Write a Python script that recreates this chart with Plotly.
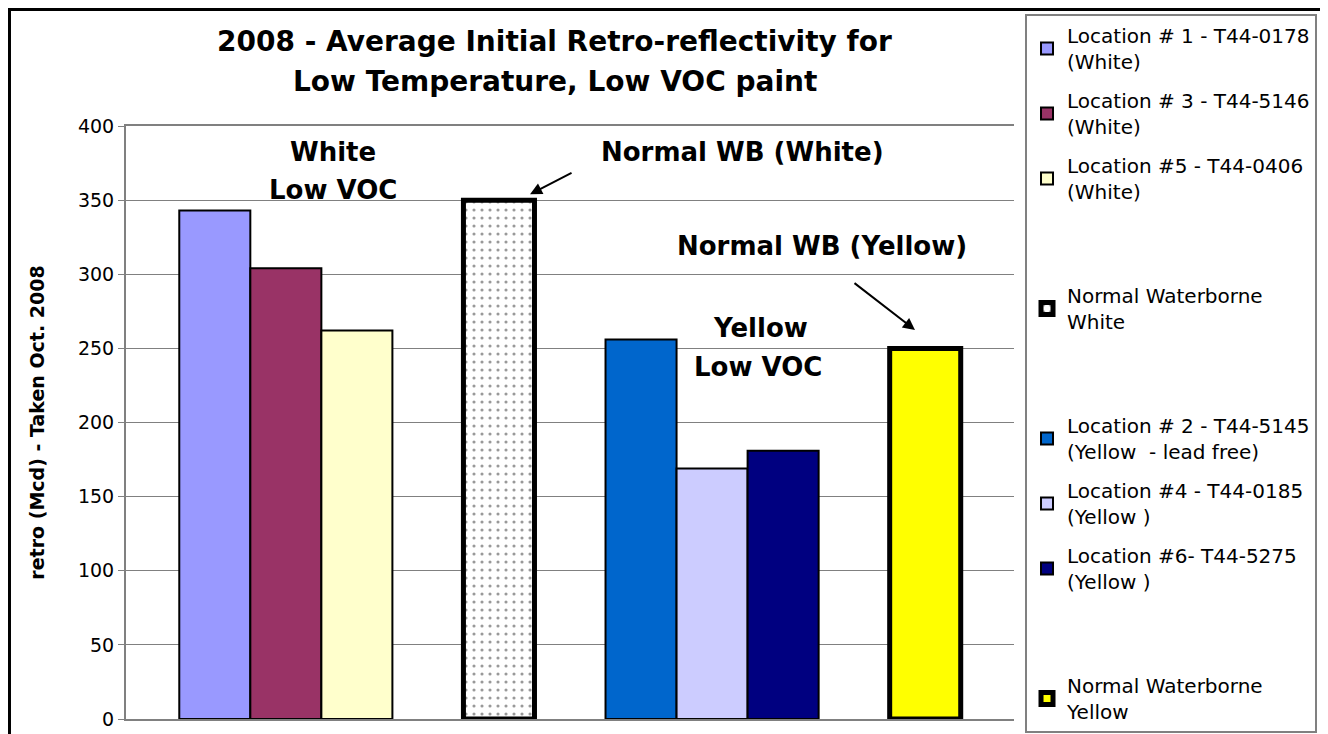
import plotly.graph_objects as go

# ---- data ----
category = ["Oct. 2008"]
series_names = [
    "Location # 1 - T44-0178<br>(White)",
    "Location # 3 - T44-5146<br>(White)",
    "Location #5 - T44-0406<br>(White)",
    None,
    "Normal Waterborne<br>White",
    None,
    "Location # 2 - T44-5145<br>(Yellow  - lead free)",
    "Location #4 - T44-0185<br>(Yellow )",
    "Location #6- T44-5275<br>(Yellow )",
    None,
    "Normal Waterborne<br>Yellow",
]
series_values = [343, 304, 262, None, 350, None, 256, 169, 181, None, 250]
series_colors = ["#9999FF", "#993366", "#FFFFCC", None, "#FFFFFF", None,
                 "#0066CC", "#CCCCFF", "#000080", None, "#FFFF00"]
series_kind = ["plain", "plain", "plain", "blank", "dots", "blank",
               "plain", "plain", "plain", "blank", "thick"]

y_ticks = [0, 50, 100, 150, 200, 250, 300, 350, 400]

FONT = "DejaVu Sans"

fig = go.Figure()
for i, (nm, val, col, kind) in enumerate(zip(series_names, series_values, series_colors, series_kind)):
    if kind == "blank":
        fig.add_trace(go.Bar(
            x=category, y=[val], name="&nbsp;<br>&nbsp;",
            marker=dict(color="rgba(0,0,0,0)", line=dict(width=0)),
            legendgroup=f"g{i}", showlegend=True, hoverinfo="skip"))
        continue
    marker = dict(color=col, line=dict(color="black", width=2))
    if kind == "dots":
        marker["line"]["width"] = 5
        marker["pattern"] = dict(shape=".", fgcolor="#333333", bgcolor="white",
                                 size=8, solidity=0.12, fillmode="overlay")
    elif kind == "thick":
        marker["line"]["width"] = 5
    fig.add_trace(go.Bar(x=category, y=[val], name=nm, marker=marker,
                         legendgroup=f"g{i}"))

title_font = dict(family=FONT, size=28, color="black")
ann_font = dict(family=FONT, size=26, color="black")

annotations = [
    dict(text="<b>2008 - Average Initial Retro-reflectivity for</b>", x=0.483, y=1.1417, font=title_font),
    dict(text="<b>Low Temperature, Low VOC paint</b>", x=0.483, y=1.0742, font=title_font),
    dict(text="<b>White</b>", x=0.233, y=0.956, font=ann_font),
    dict(text="<b>Low VOC</b>", x=0.233, y=0.892, font=ann_font),
    dict(text="<b>Normal WB (White)</b>", x=0.694, y=0.956, font=ann_font),
    dict(text="<b>Yellow</b>", x=0.714, y=0.659, font=ann_font),
    dict(text="<b>Low VOC</b>", x=0.712, y=0.594, font=ann_font),
    dict(text="<b>Normal WB (Yellow)</b>", x=0.784, y=0.798, font=ann_font),
]
annotations = [dict(a, xref="paper", yref="paper", showarrow=False,
                    xanchor="center", yanchor="middle") for a in annotations]
annotations += [
    dict(x=0.455, y=0.885, xref="paper", yref="paper", ax=43, ay=-22, text="",
         showarrow=True, arrowhead=2, arrowsize=1.2, arrowwidth=2, arrowcolor="black"),
    dict(x=0.8885, y=0.656, xref="paper", yref="paper", ax=-62, ay=-48, text="",
         showarrow=True, arrowhead=2, arrowsize=1.2, arrowwidth=2, arrowcolor="black"),
]

fig.update_layout(
    width=1320, height=726,
    margin=dict(l=118, r=314, t=118, b=15, autoexpand=False),
    paper_bgcolor="white", plot_bgcolor="white",
    barmode="group", bargap=0.12, bargroupgap=0,
    font=dict(family=FONT, color="black"),
    showlegend=True,
    legend=dict(x=1.0124, y=1.189, xanchor="left", yanchor="top",
                bordercolor="#808080", borderwidth=2, bgcolor="white",
                font=dict(family=FONT, size=20, color="black"),
                tracegroupgap=10, traceorder="grouped", itemclick=False,
                maxheight=1.0),
    annotations=annotations,
    shapes=[dict(type="rect", xref="paper", yref="paper",
                 x0=-0.1312, x1=1.3519, y0=-0.06, y1=1.1965,
                 line=dict(color="black", width=3), layer="below")],
)
fig.update_xaxes(showticklabels=False, ticks="", showline=True, linecolor="#808080",
                 linewidth=2, mirror=True, showgrid=False)
fig.update_yaxes(range=[0, 400], tickvals=y_ticks, showgrid=True, gridcolor="#808080",
                 gridwidth=1, showline=True, linecolor="#808080", linewidth=2,
                 ticks="outside", ticklen=6, tickcolor="#808080",
                 tickfont=dict(family=FONT, size=19, color="black"),
                 title=dict(text="<b>retro (Mcd) - Taken Oct. 2008</b>",
                            font=dict(family=FONT, size=19, color="black"), standoff=28),
                 zeroline=False)

fig.write_html("out.html")
